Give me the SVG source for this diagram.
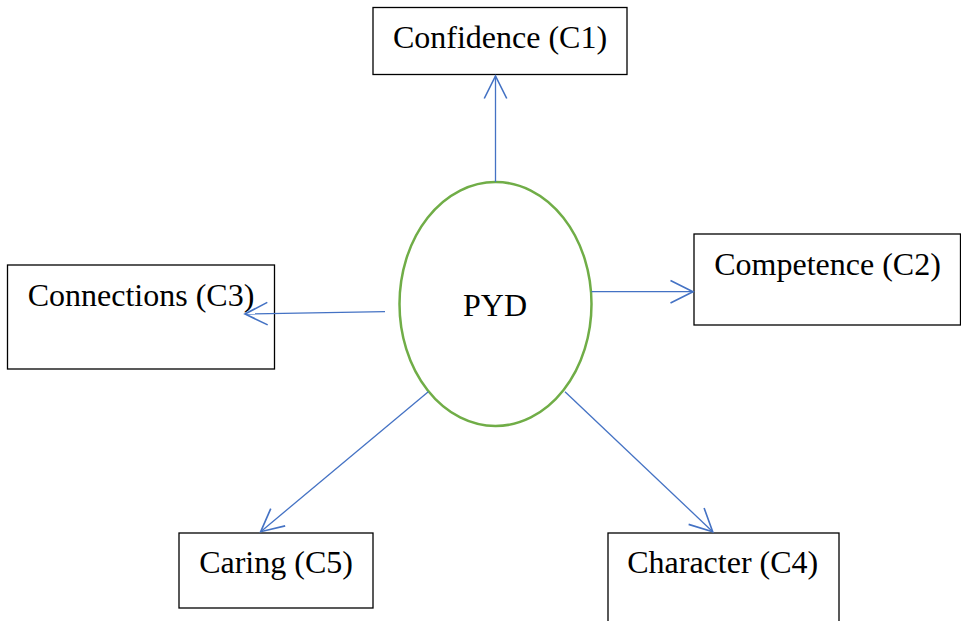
<svg xmlns="http://www.w3.org/2000/svg" width="961" height="621" viewBox="0 0 961 621">
<style>
.box{fill:#fff;stroke:#000;stroke-width:1.3}
.lbl{font-size:32px;fill:#000;text-anchor:middle}
.con{stroke:#4472C4;stroke-width:1.3;fill:none;marker-end:url(#arr)}
</style>
<defs>
<marker id="arr" markerUnits="userSpaceOnUse" orient="auto" markerWidth="30" markerHeight="30" refX="0" refY="0" viewBox="-20 -12 22 24" overflow="visible">
<path d="M-18,-9 L0,0 L-18,9" fill="none" stroke="#4472C4" stroke-width="1.3"/>
</marker>
</defs>
<rect width="961" height="621" fill="#fff"/>
<g font-family="Liberation Serif, Tinos, Times New Roman, DejaVu Serif, serif">
<g id="pyd">
<ellipse cx="495.5" cy="304" rx="96" ry="122" fill="none" stroke="#70AD47" stroke-width="2.5"/>
<text class="lbl" x="495" y="315.5">PYD</text>
</g>
<g id="c1">
<rect class="box" x="373" y="7.5" width="254" height="67"/>
<text class="lbl" x="500" y="48">Confidence (C1)</text>
</g>
<g id="c2">
<rect class="box" x="694" y="234" width="266.5" height="91"/>
<text class="lbl" x="827.5" y="274.5">Competence (C2)</text>
</g>
<g id="c3">
<rect class="box" x="7.5" y="265" width="267" height="104"/>
<text class="lbl" x="141" y="306">Connections (C3)</text>
</g>
<g id="c4">
<rect class="box" x="608" y="533" width="231" height="100"/>
<text class="lbl" x="722.7" y="573.3">Character (C4)</text>
</g>
<g id="c5">
<rect class="box" x="179" y="533" width="194" height="75"/>
<text class="lbl" x="276" y="572.7">Caring (C5)</text>
</g>
</g>
<g id="connectors">
<line class="con" x1="495.5" y1="182" x2="495.5" y2="76"/>
<line class="con" x1="591.5" y1="291.7" x2="693" y2="291.7"/>
<line class="con" x1="385" y1="311.7" x2="245" y2="314"/>
<line class="con" x1="428.3" y1="391.7" x2="260.7" y2="531.7"/>
<line class="con" x1="565" y1="391.7" x2="712.7" y2="531.7"/>
</g>
</svg>
